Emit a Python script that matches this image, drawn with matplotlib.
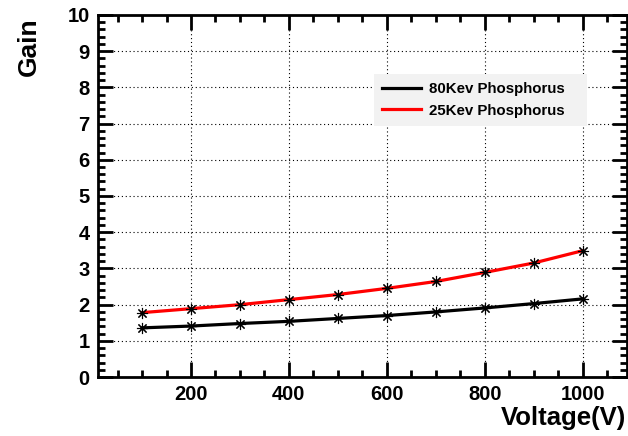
import matplotlib
matplotlib.use("Agg")
import matplotlib.pyplot as plt
from matplotlib.ticker import MultipleLocator

plt.rcParams['font.family'] = ['Liberation Sans', 'DejaVu Sans']
plt.rcParams['font.weight'] = 'bold'

voltage = [100, 200, 300, 400, 500, 600, 700, 800, 900, 1000]
gain_80kev = [1.36, 1.41, 1.48, 1.54, 1.62, 1.70, 1.80, 1.91, 2.03, 2.16]
gain_25kev = [1.78, 1.89, 2.00, 2.14, 2.28, 2.45, 2.64, 2.89, 3.15, 3.49]

fig = plt.figure(figsize=(6.28, 4.36), dpi=100)
ax = fig.add_axes([0.156, 0.135, 0.842, 0.831])

star = (8, 2, 0)
ax.plot(voltage, gain_80kev, color='black', lw=2.3, label='80Kev Phosphorus', zorder=3)
ax.plot(voltage, gain_25kev, color='red', lw=2.3, label='25Kev Phosphorus', zorder=3)
for g in (gain_80kev, gain_25kev):
    ax.plot(voltage, g, ls='none', marker=star, ms=8, mec='black', mew=0.8, zorder=4)

ax.set_xlim(10, 1090)
ax.set_ylim(0, 10)
ax.xaxis.set_major_locator(MultipleLocator(200))
ax.xaxis.set_minor_locator(MultipleLocator(50))
ax.yaxis.set_major_locator(MultipleLocator(1))
ax.yaxis.set_minor_locator(MultipleLocator(0.2))

ax.grid(True, which='major', color='black', ls=(0, (1, 2.5)), lw=0.8)
ax.tick_params(which='both', direction='in', top=True, right=True, width=2, labelsize=14.5, pad=6)
ax.tick_params(which='major', length=11)
ax.tick_params(which='minor', length=5)
for lab in ax.get_xticklabels() + ax.get_yticklabels():
    lab.set_fontweight('bold')
for sp in ax.spines.values():
    sp.set_linewidth(2)

# grey legend box spanning x 374..587 px
leg = ax.legend(loc='upper left', bbox_to_anchor=(0.522, 0.702, 0.402, 0.135), mode='expand',
                borderaxespad=0, frameon=True, fancybox=False, handlelength=2.6,
                handletextpad=0.5, borderpad=0.55, labelspacing=0.5,
                prop={'size': 10.8, 'weight': 'bold'})
leg.get_frame().set_facecolor('#f2f2f2')
leg.get_frame().set_edgecolor('none')
leg.get_frame().set_alpha(1)

fig.text(29 / 628, 1 - 47 / 436, 'Gain', rotation=90, ha='center', va='center',
         fontsize=19, fontweight='bold')
fig.text(626 / 628, 11 / 436, 'Voltage(V)', ha='right', va='baseline',
         fontsize=18.5, fontweight='bold')

fig.savefig('out.png', dpi=100)
